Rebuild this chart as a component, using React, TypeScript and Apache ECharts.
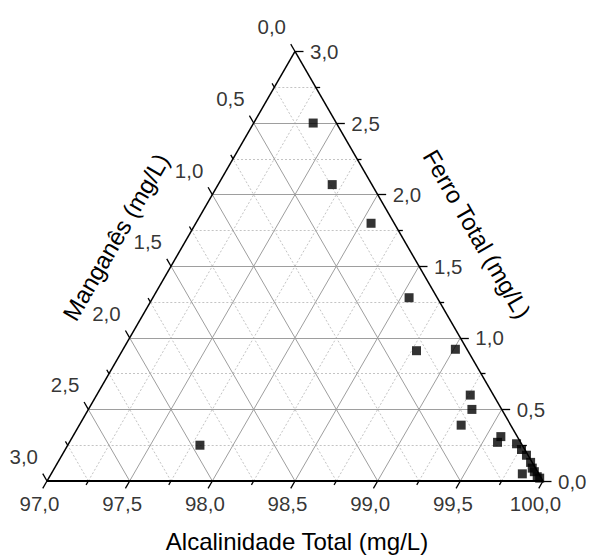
import React, { useEffect, useRef } from "react";
import * as echarts from "echarts";

// Ternary data (mg/L)
const ferroTotal = [2.5, 2.07, 1.8, 1.28, 0.91, 0.92, 0.6, 0.5, 0.39, 0.31, 0.27, 0.26, 0.22, 0.18, 0.13, 0.09, 0.05, 0.065, 0.03, 0.02, 0.25];
const manganes = [0.14, 0.24, 0.14, 0.17, 0.31, 0.07, 0.14, 0.18, 0.3, 0.1, 0.14, 0.03, 0.02, 0.01, 0.01, 0.02, 0.1, 0.02, 0.02, 0.01, 1.95];
const alcalinidade = [97.36, 97.69, 98.06, 98.55, 98.78, 99.01, 99.26, 99.32, 99.31, 99.59, 99.59, 99.71, 99.76, 99.81, 99.86, 99.89, 99.85, 99.915, 99.95, 99.97, 97.8];

const tickSteps = [0, 0.25, 0.5, 0.75, 1, 1.25, 1.5, 1.75, 2, 2.25, 2.5, 2.75, 3];
const alcTickLabels = ["97,0", "97,5", "98,0", "98,5", "99,0", "99,5", "100,0"];
const ferroTickLabels = ["0,0", "0,5", "1,0", "1,5", "2,0", "2,5", "3,0"];
const mnTickLabels = ["0,0", "0,5", "1,0", "1,5", "2,0", "2,5", "3,0"];

const A_MIN = 97;
const RANGE = 3;
const H = Math.sqrt(3) / 2;
const S = 496; // px per triangle side
const X0 = 47;
const Y0 = 481;
const W = 589;
const HT = 559;
const FONT = "'Liberation Sans', Arial, sans-serif";

function toXY(a: number, f: number, m: number): [number, number] {
  const u = (a - A_MIN) / RANGE;
  const ff = f / RANGE;
  const mm = m / RANGE;
  const s = u + ff + mm;
  return [(u + 0.5 * ff) / s, (ff * H) / s];
}

function seg(p: [number, number], q: [number, number]) {
  return { coords: [p, q] };
}

function tick(p: [number, number], dir: [number, number], len: number) {
  const l = len / S;
  return { coords: [p, [p[0] + dir[0] * l, p[1] + dir[1] * l]] };
}

export default function App() {
  const ref = useRef<HTMLDivElement>(null);
  useEffect(() => {
    if (!ref.current) return;
    const chart = echarts.init(ref.current, undefined, { renderer: "svg" });

    const majorGrid: any[] = [];
    const minorGrid: any[] = [];
    tickSteps.forEach((t) => {
      if (t === 0 || t === 3) return;
      const isMajor = Math.abs(t * 2 - Math.round(t * 2)) < 1e-9;
      const target = isMajor ? majorGrid : minorGrid;
      target.push(seg(toXY(A_MIN, t, RANGE - t), toXY(100 - t, t, 0)));
      target.push(seg(toXY(100 - t, 0, t), toXY(A_MIN, RANGE - t, t)));
      target.push(seg(toXY(A_MIN + t, 0, RANGE - t), toXY(A_MIN + t, RANGE - t, 0)));
    });

    const edges = [
      seg(toXY(100, 0, 0), toXY(A_MIN, RANGE, 0)),
      seg(toXY(A_MIN, RANGE, 0), toXY(A_MIN, 0, RANGE)),
    ];
    const baseEdge = [seg(toXY(A_MIN, 0, RANGE), toXY(100, 0, 0))];

    const ticks: any[] = [];
    tickSteps.forEach((t) => {
      const isMajor = Math.abs(t * 2 - Math.round(t * 2)) < 1e-9;
      const len = isMajor ? 8.5 : 4.5;
      ticks.push(tick(toXY(A_MIN + t, 0, RANGE - t), [-0.5, -H], len));
      ticks.push(tick(toXY(100 - t, t, 0), [1, 0], len));
      ticks.push(tick(toXY(A_MIN, RANGE - t, t), [-0.5, H], len));
    });

    const majors = tickSteps.filter((t) => Math.abs(t * 2 - Math.round(t * 2)) < 1e-9);
    const bottomLabels = majors.map((t, i) => ({ name: alcTickLabels[i], value: toXY(A_MIN + t, 0, RANGE - t) }));
    const rightLabels = majors.map((t, i) => ({ name: ferroTickLabels[i], value: toXY(100 - t, t, 0) }));
    const leftLabels = majors.map((t, i) => ({ name: mnTickLabels[i], value: toXY(A_MIN, RANGE - t, t) }));

    const points = ferroTotal.map((f, i) => toXY(alcalinidade[i], f, manganes[i]));

    const labelSeries = (data: any[], align: string, offset: number[]) => ({
      type: "scatter",
      data,
      symbolSize: 1,
      itemStyle: { color: "transparent" },
      silent: true,
      clip: false,
      z: 5,
      label: {
        show: true,
        position: "inside",
        formatter: "{b}",
        align,
        verticalAlign: "middle",
        offset,
        fontFamily: FONT,
        fontSize: 20.5,
        color: "#000",
      },
    });

    chart.setOption({
      animation: false,
      backgroundColor: "#fff",
      grid: { left: 0, right: 0, top: 0, bottom: 0 },
      xAxis: { type: "value", min: -X0 / S, max: (W - X0) / S, show: false },
      yAxis: { type: "value", min: -(HT - Y0) / S, max: Y0 / S, show: false },
      series: [
        {
          type: "lines",
          coordinateSystem: "cartesian2d",
          data: minorGrid,
          silent: true,
          clip: false,
          lineStyle: { color: "#c4c4c4", width: 1, type: [2, 2], opacity: 1 },
          z: 1,
        },
        {
          type: "lines",
          coordinateSystem: "cartesian2d",
          data: majorGrid,
          silent: true,
          clip: false,
          lineStyle: { color: "#9e9e9e", width: 1, type: "solid", opacity: 1 },
          z: 2,
        },
        {
          type: "lines",
          coordinateSystem: "cartesian2d",
          data: edges,
          silent: true,
          clip: false,
          lineStyle: { color: "#000", width: 1.5, type: "solid", opacity: 1 },
          z: 3,
        },
        {
          type: "lines",
          coordinateSystem: "cartesian2d",
          data: baseEdge,
          silent: true,
          clip: false,
          lineStyle: { color: "#000", width: 2, type: "solid", opacity: 1 },
          z: 3,
        },
        {
          type: "lines",
          coordinateSystem: "cartesian2d",
          data: ticks,
          silent: true,
          clip: false,
          lineStyle: { color: "#000", width: 1.3, type: "solid", opacity: 1 },
          z: 3,
        },
        labelSeries(bottomLabels, "center", [-7.5, 22]),
        labelSeries(rightLabels, "left", [15, 0]),
        labelSeries(leftLabels, "right", [-9, -24.5]),
        {
          type: "scatter",
          data: points,
          symbol: "rect",
          symbolSize: 9,
          itemStyle: { color: "#000" },
          clip: false,
          z: 10,
        },
      ],
      graphic: [
        {
          type: "text",
          x: 297,
          y: 541,
          style: { text: "Alcalinidade Total (mg/L)", fontFamily: FONT, fontSize: 24, fill: "#000", align: "center", verticalAlign: "middle" },
        },
        {
          type: "text",
          x: 477,
          y: 234,
          rotation: -Math.PI / 3,
          style: { text: "Ferro Total (mg/L)", fontFamily: FONT, fontSize: 24, fill: "#000", align: "center", verticalAlign: "middle" },
        },
        {
          type: "text",
          x: 116,
          y: 237,
          rotation: Math.PI / 3,
          style: { text: "Manganês (mg/L)", fontFamily: FONT, fontSize: 24, fill: "#000", align: "center", verticalAlign: "middle" },
        },
      ],
    });
    return () => chart.dispose();
  }, []);
  return <div ref={ref} style={{ position: "absolute", left: 0, top: 0, width: W, height: HT }} />;
}
